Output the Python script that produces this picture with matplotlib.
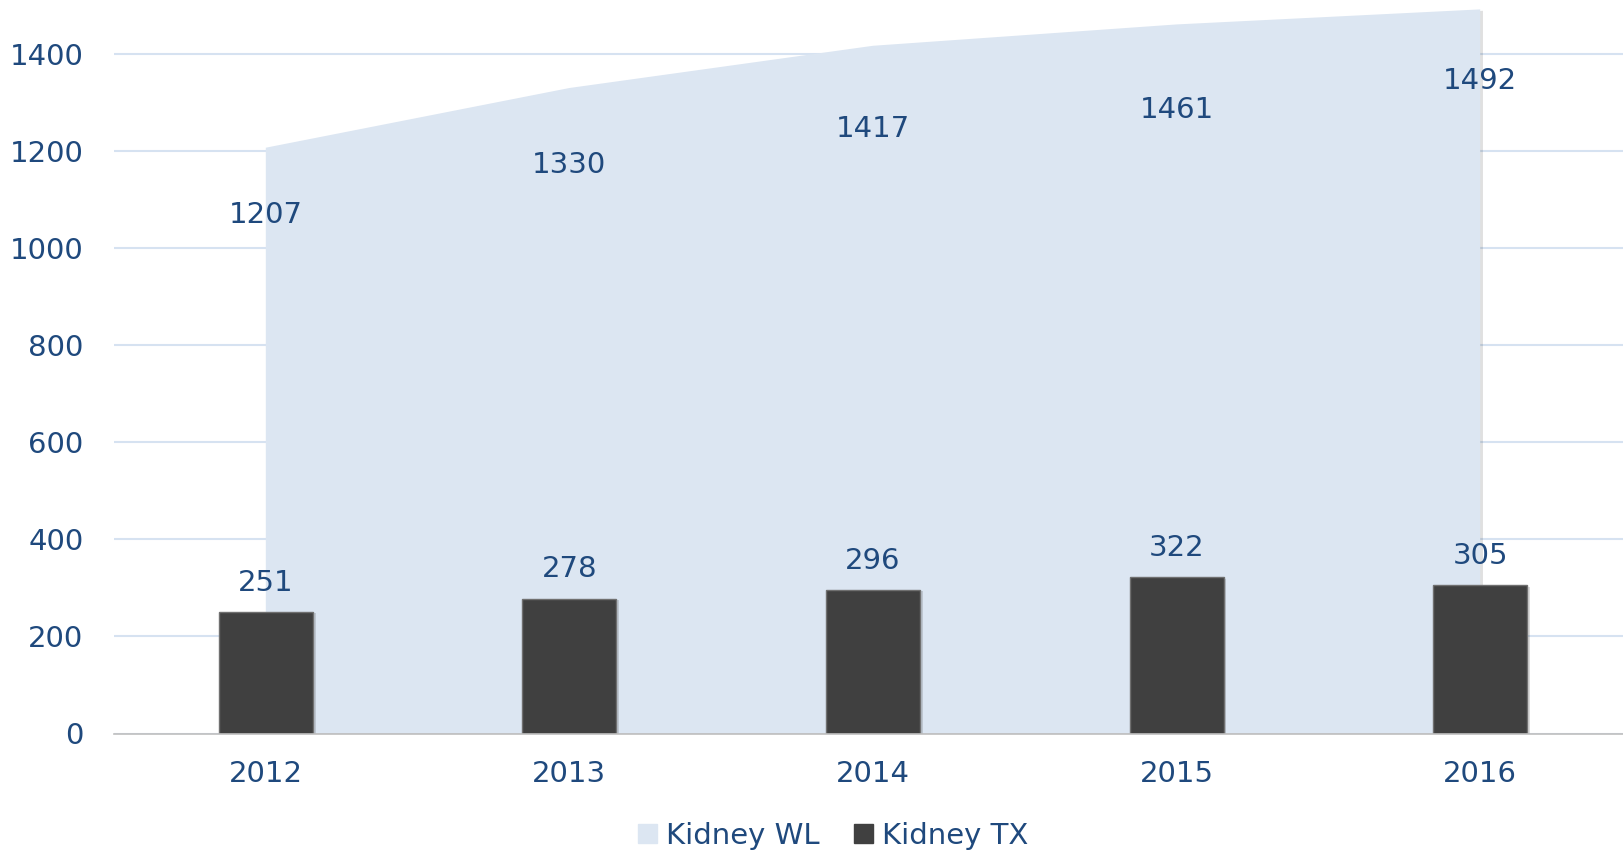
import matplotlib.pyplot as plt
import matplotlib.patheffects as pe
from matplotlib.patches import Patch
import numpy as np

years = ['2012', '2013', '2014', '2015', '2016']
kidney_wl = [1207, 1330, 1417, 1461, 1492]
kidney_tx = [251, 278, 296, 322, 305]

# where Excel put the waiting-list labels (below the area edge)
wl_label_drop = [139, 158, 172, 176, 147]

text_col = '#1F497D'
area_col = '#DCE6F2'
bar_col = '#404040'
grid_col = '#D6E2F1'

plt.rcParams['font.family'] = ['DejaVu Sans']

fig = plt.figure(figsize=(16.23, 8.58), dpi=100)
ax = fig.add_axes([114 / 1623, 124.5 / 858, 1518 / 1623, 728 / 858])

x = np.arange(len(years))

area = ax.fill_between(x, kidney_wl, 0, color=area_col, lw=0, zorder=2)
area.set_path_effects([pe.SimplePatchShadow(offset=(2, -1), shadow_rgbFace='#000000', alpha=0.12), pe.Normal()])
bars = ax.bar(x, kidney_tx, width=0.31, color=bar_col, edgecolor='#707070', lw=1, zorder=3)
for b in bars:
    b.set_path_effects([pe.SimplePatchShadow(offset=(2, -1), alpha=0.15), pe.Normal()])

for xi, v, d in zip(x, kidney_wl, wl_label_drop):
    ax.text(xi, v - d, str(v), ha='center', va='center', fontsize=21, color=text_col, zorder=4)
for xi, v in zip(x, kidney_tx):
    ax.annotate(str(v), (xi, v), xytext=(0, 21), textcoords='offset points',
                ha='center', va='center', fontsize=21, color=text_col, zorder=4)

ax.set_xlim(-0.5, 4.5)
ax.set_ylim(0, 1500)
ax.set_yticks(range(0, 1401, 200))
ax.set_xticks(x)
ax.set_xticklabels(years)
ax.yaxis.grid(True, color=grid_col, lw=1.5, zorder=1)
ax.set_axisbelow(True)
ax.tick_params(axis='both', length=0, labelsize=21, labelcolor=text_col)
ax.tick_params(axis='y', pad=22)
ax.tick_params(axis='x', pad=19)
for s in ['top', 'right', 'left']:
    ax.spines[s].set_visible(False)
ax.spines['bottom'].set_color('#BFBFBF')
ax.spines['bottom'].set_linewidth(1.2)
ax.spines['bottom'].set_zorder(5)

handles = [Patch(color=area_col, label='Kidney WL'), Patch(color=bar_col, label='Kidney TX')]
fig.legend(handles=handles, loc='center', bbox_to_anchor=(833 / 1623, 22 / 858), ncol=2,
           frameon=False, fontsize=21, labelcolor=text_col, handlelength=0.65, handleheight=0.65,
           handletextpad=0.3, columnspacing=1.2)

fig.savefig('out.png', dpi=100)
